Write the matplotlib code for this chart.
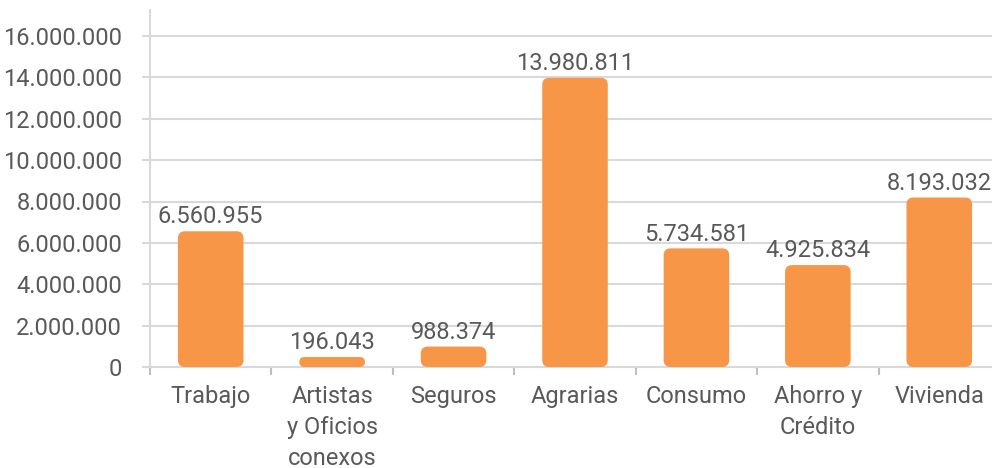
import matplotlib.pyplot as plt
from matplotlib.patches import FancyBboxPatch

# data
categories = ['Trabajo', 'Artistas\ny Oficios\nconexos', 'Seguros', 'Agrarias',
              'Consumo', 'Ahorro y\nCrédito', 'Vivienda']
values = [6560955, 196043, 988374, 13980811, 5734581, 4925834, 8193032]
y_ticks = [0, 2000000, 4000000, 6000000, 8000000, 10000000, 12000000, 14000000, 16000000]

bar_color = '#F79646'
text_color = '#595959'
grid_color = '#D9D9D9'


def fmt(v):
    return f"{v:,}".replace(',', '.')


plt.rcParams['font.family'] = ['Roboto', 'DejaVu Sans']
plt.rcParams['font.size'] = 17

W, H = 992, 468
fig = plt.figure(figsize=(W / 100, H / 100), dpi=100)
ax = fig.add_axes([150 / W, 1 - 367 / H, 850 / W, 357 / H])

x = list(range(len(categories)))
ax.set_xlim(-0.5, len(categories) - 0.5)
ax.set_ylim(0, y_ticks[-1] * 357 / 331)

# sizes of one pixel in data units
fig.canvas.draw()
px_x = (ax.get_xlim()[1] - ax.get_xlim()[0]) / ax.bbox.width
px_y = (ax.get_ylim()[1] - ax.get_ylim()[0]) / ax.bbox.height
aspect = px_y / px_x

# rounded bars (small values get a minimum pill height)
bar_w = 0.54
for xi, v in zip(x, values):
    h = max(v, 10 * px_y)
    r_px = min(7, (h / px_y) / 2)
    patch = FancyBboxPatch((xi - bar_w / 2, 0), bar_w, h,
                           boxstyle=f"round,pad=0,rounding_size={r_px * px_x}",
                           mutation_aspect=aspect, fc=bar_color, ec='none', zorder=3)
    ax.add_patch(patch)
    ax.annotate(fmt(v), (xi, h), xytext=(0, 2), textcoords='offset points',
                ha='center', va='bottom', color=text_color, fontsize=17)

# axes styling
for s in ['top', 'right']:
    ax.spines[s].set_visible(False)
for s in ['left', 'bottom']:
    ax.spines[s].set_color(grid_color)
    ax.spines[s].set_linewidth(1.5)

ax.set_yticks(y_ticks)
ax.set_yticklabels([fmt(t) for t in y_ticks])
ax.yaxis.grid(True, color=grid_color, linewidth=1.5, zorder=0)
ax.set_axisbelow(True)
ax.tick_params(axis='y', length=6, width=1.5, color=grid_color, pad=14,
               labelcolor=text_color, labelsize=17)

ax.set_xticks(x)
ax.set_xticklabels(categories, linespacing=1.45)
ax.set_xticks([i - 0.5 for i in range(len(categories) + 1)], minor=True)
ax.tick_params(axis='x', which='major', length=0, pad=13,
               labelcolor=text_color, labelsize=17)
ax.tick_params(axis='x', which='minor', length=6, width=1.5, color='#BFBFBF')

fig.savefig('out.png', dpi=100)
